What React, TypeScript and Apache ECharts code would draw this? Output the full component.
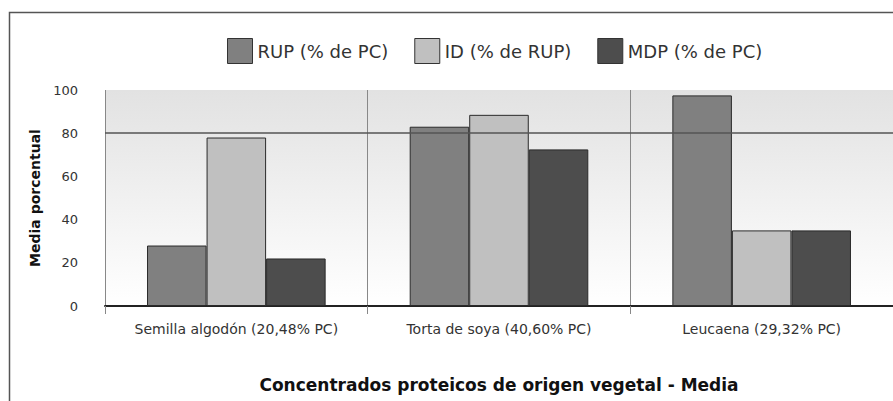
import React, { useEffect, useRef } from "react";
import * as echarts from "echarts";

const categories = [
  "Semilla algodón (20,48% PC)",
  "Torta de soya (40,60% PC)",
  "Leucaena (29,32% PC)",
];
const seriesNames = ["RUP (% de PC)", "ID (% de RUP)", "MDP (% de PC)"];
const rupValues = [28, 83, 97.5];
const idValues = [78, 88.5, 35];
const mdpValues = [22, 72.5, 35];
const seriesColors = ["#808080", "#c0c0c0", "#4d4d4d"];
const yTicks = [0, 20, 40, 60, 80, 100];

export default function App() {
  const ref = useRef<HTMLDivElement>(null);
  useEffect(() => {
    if (!ref.current) return;
    const chart = echarts.init(ref.current, undefined, { renderer: "svg" });
    const font = "DejaVu Sans, Verdana, sans-serif";
    const data = [rupValues, idValues, mdpValues];
    chart.setOption({
      animation: false,
      backgroundColor: "#ffffff",
      graphic: [
        {
          type: "polyline",
          shape: { points: [[9.5, 401], [9.5, 12.5], [893, 12.5]] },
          style: { stroke: "#555", lineWidth: 1.5, fill: "none" },
          silent: true,
        },
      ],
      legend: {
        left: 222,
        top: 33,
        itemWidth: 25,
        itemHeight: 25,
        itemGap: 26,
        icon: "rect",
        data: seriesNames,
        textStyle: { fontFamily: font, fontSize: 18, color: "#333" },
        itemStyle: { borderColor: "#333", borderWidth: 1 },
      },
      grid: {
        left: 105,
        right: 0,
        top: 90,
        bottom: 95,
        show: true,
        borderWidth: 0,
        backgroundColor: new echarts.graphic.LinearGradient(0, 0, 0, 1, [
          { offset: 0, color: "#e2e2e2" },
          { offset: 1, color: "#ffffff" },
        ]),
      },
      xAxis: {
        type: "category",
        data: categories,
        name: "Concentrados proteicos de origen vegetal - Media",
        nameLocation: "middle",
        nameGap: 70,
        nameTextStyle: { fontFamily: font, fontSize: 17, fontWeight: "bold", color: "#111" },
        axisLine: { show: true, lineStyle: { color: "#222", width: 2 } },
        axisTick: { show: true, interval: 0, length: 8, lineStyle: { color: "#888" } },
        axisLabel: { interval: 0, fontFamily: font, fontSize: 14, color: "#333", margin: 16 },
        splitLine: { show: true, interval: 0, lineStyle: { color: "#888", width: 1 } },
      },
      yAxis: {
        type: "value",
        min: 0,
        max: 100,
        interval: 20,
        name: "Media porcentual",
        nameLocation: "middle",
        nameGap: 52,
        nameTextStyle: { fontFamily: font, fontSize: 14, fontWeight: "bold", color: "#111" },
        axisLine: { show: false },
        axisTick: { show: false },
        axisLabel: {
          fontFamily: font,
          fontSize: 13,
          color: "#333",
          margin: 27,
          formatter: (v: number) => (yTicks.includes(v) ? String(v) : ""),
        },
        splitLine: { show: false },
      },
      series: seriesNames.map((name, i) => ({
        name,
        type: "bar",
        data: data[i],
        barGap: "0%",
        barCategoryGap: "32%",
        itemStyle: { color: seriesColors[i], borderColor: "#2a2a2a", borderWidth: 1 },
        markLine:
          i === 0
            ? {
                silent: true,
                symbol: "none",
                label: { show: false },
                lineStyle: { color: "#555", width: 1.5, type: "solid" },
                data: [{ yAxis: 80 }],
              }
            : undefined,
        z: 2,
      })),
    });
    return () => chart.dispose();
  }, []);
  return (
    <div
      ref={ref}
      style={{ position: "absolute", left: 0, top: 0, width: 893, height: 401 }}
    />
  );
}
